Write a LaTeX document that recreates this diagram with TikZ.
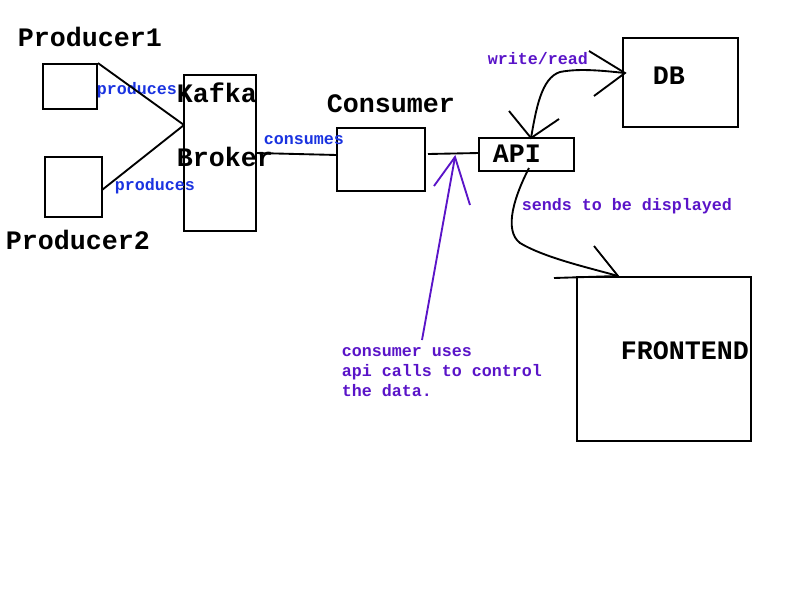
\documentclass[tikz,border=0pt]{standalone}
\usepackage{fontspec}
\setmonofont{Liberation Mono}
\usetikzlibrary{fit}
\definecolor{kblue}{RGB}{26,51,224}
\definecolor{kpurple}{RGB}{90,20,200}
\begin{document}
\begin{tikzpicture}[x=0.75pt,y=-0.75pt,line width=1.4pt,
  box/.style={draw,inner sep=0pt},
  big/.style={font=\ttfamily\bfseries\fontsize{20}{24}\selectfont,inner sep=0pt,anchor=base west},
  small/.style={font=\ttfamily\bfseries\fontsize{12.5}{15}\selectfont,inner sep=0pt,anchor=base west},
  blu/.style={small,text=kblue},
  pur/.style={small,text=kpurple,align=left},
  purline/.style={draw=kpurple}]
\useasboundingbox (0,0) rectangle (800,600);
% boxes
\coordinate (a1) at (43,64);  \coordinate (a2) at (97,109);
\node[box,fit=(a1)(a2)] (p1) {};
\coordinate (b1) at (45,157); \coordinate (b2) at (102,217);
\node[box,fit=(b1)(b2)] (p2) {};
\coordinate (k1) at (184,75); \coordinate (k2) at (256,231);
\node[box,fit=(k1)(k2)] (kafka) {};
\coordinate (c1) at (337,128); \coordinate (c2) at (425,191);
\node[box,fit=(c1)(c2)] (cons) {};
\coordinate (i1) at (479,138); \coordinate (i2) at (574,171);
\node[box,fit=(i1)(i2)] (api) {};
\coordinate (d1) at (623,38); \coordinate (d2) at (738,127);
\node[box,fit=(d1)(d2)] (db) {};
\coordinate (f1) at (577,277); \coordinate (f2) at (751,441);
\node[box,fit=(f1)(f2)] (fe) {};
% labels
\node[big] (lp1) at (17,46) {Producer1};
\node[big] (lp2) at (5,249) {Producer2};
\node[big] (lk1) at (176,102) {Kafka};
\node[big] (lk2) at (176,166) {Broker};
\node[big] (lc) at (326,112) {Consumer};
\node[big] (la) at (492,162) {API};
\node[big] (ld) at (652,84) {DB};
\node[big] (lf) at (620,359) {FRONTEND};
\node[blu] (t1) at (96,94) {produces};
\node[blu] (t2) at (114,190) {produces};
\node[blu] (t3) at (263,144) {consumes};
\node[pur] (t4) at (487,64) {write/read};
\node[pur] (t5) at (521,210) {sends to be displayed};
\node[pur,anchor=north west] (t6) at (341,347) {consumer uses\\api calls to control\\the data.};
% connectors
\coordinate (kin) at (184,125);
\draw (p1.north east) -- (kin);
\coordinate (p2o) at (102,190);
\draw (p2o) -- (kin);
\coordinate (kout) at (256,153);
\coordinate (cin) at (337,155);
\draw (kout) -- (cin);
\coordinate (cout) at (428,154);
\coordinate (ain) at (479,153);
\draw (cout) -- (ain);
% API <-> DB
\coordinate (atop) at (531,138);
\coordinate (dbin) at (625,73);
\draw (atop) .. controls (536,110) and (541,78) .. (560,72) .. controls (580,68) and (605,71) .. (dbin);
\draw (589,51) -- (dbin) -- (594,96);
\draw (509,111) -- (atop) -- (559,119);
% API -> FRONTEND
\coordinate (abot) at (529,168);
\coordinate (fin) at (618,276);
\draw (abot) .. controls (515,195) and (503,230) .. (520,243) .. controls (545,258) and (590,268) .. (fin);
\draw (594,246) -- (fin) -- (554,278);
% purple arrow
\coordinate (ptip) at (455,157);
\coordinate (pstart) at (422,340);
\draw[purline] (pstart) -- (ptip);
\draw[purline] (434,186) -- (ptip) -- (470,205);
\end{tikzpicture}
\end{document}
